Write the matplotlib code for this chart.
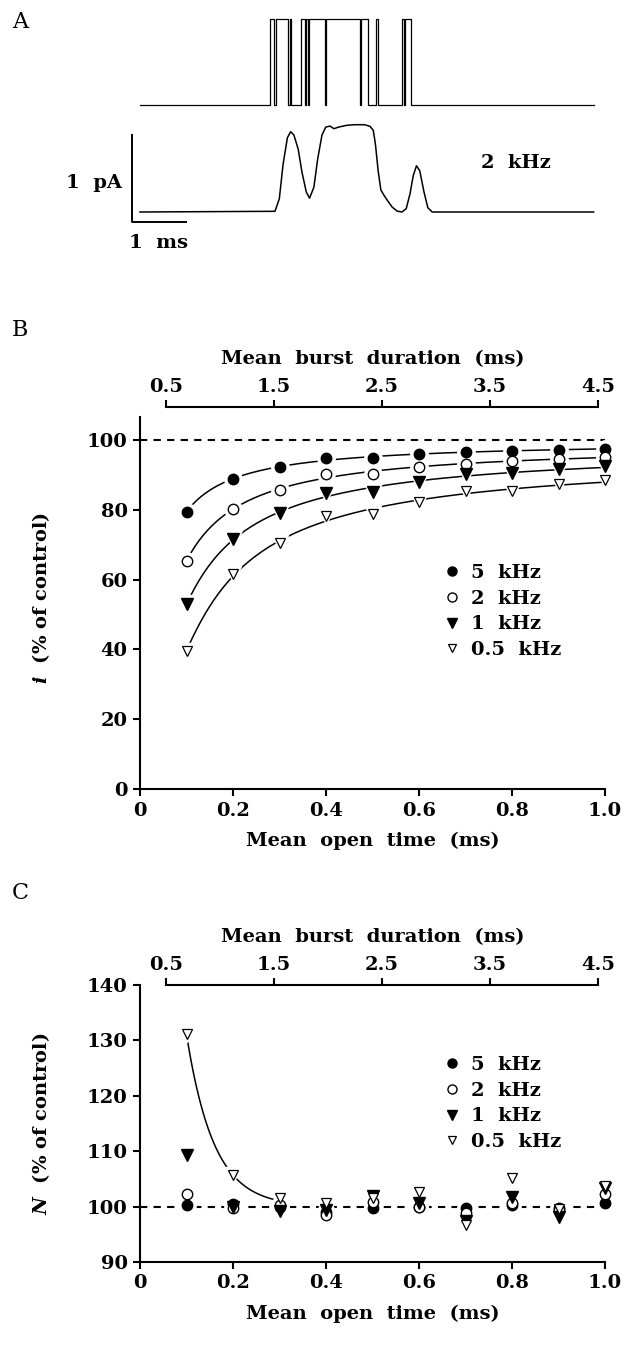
import numpy as np
import matplotlib
matplotlib.use('Agg')
import matplotlib.pyplot as plt
from matplotlib.lines import Line2D

plt.rcParams['font.family'] = ['DejaVu Serif']
plt.rcParams['font.weight'] = 'bold'
plt.rcParams['axes.labelweight'] = 'bold'
plt.rcParams['mathtext.fontset'] = 'dejavuserif'

# ---------------- data ----------------
# Panel A: idealised single-channel record (open intervals, ms)
open_start = [2.41, 2.51, 2.77, 2.99, 3.08, 3.13, 3.44, 4.09, 4.37, 4.85, 4.90]
open_end = [2.49, 2.74, 2.80, 3.05, 3.11, 3.43, 4.08, 4.22, 4.41, 4.88, 5.01]
trace_end = 8.40
# Panel A: filtered (2 kHz) current trace (ms, pA)
filt_t = [0.0, 2.50, 2.58, 2.65, 2.73, 2.79, 2.85, 2.93, 3.00, 3.08, 3.14, 3.22,
          3.29, 3.37, 3.44, 3.52, 3.59, 3.68, 3.82, 3.97, 4.16, 4.26, 4.32, 4.36,
          4.41, 4.46, 4.52, 4.59, 4.67, 4.76, 4.85, 4.93, 5.00, 5.06, 5.12, 5.18,
          5.26, 5.33, 5.41, 8.40]
filt_i = [0.0, 0.008, 0.153, 0.553, 0.859, 0.927, 0.889, 0.725, 0.458, 0.229,
          0.160, 0.286, 0.611, 0.889, 0.981, 0.992, 0.962, 0.981, 1.0, 1.008,
          1.008, 0.989, 0.943, 0.782, 0.477, 0.256, 0.191, 0.126, 0.057, 0.011,
          0.0, 0.038, 0.210, 0.420, 0.534, 0.477, 0.229, 0.050, 0.0, 0.0]

# Panels B and C
open_time = [0.1, 0.2, 0.3, 0.4, 0.5, 0.6, 0.7, 0.8, 0.9, 1.0]
freq_labels = ['5  kHz', '2  kHz', '1  kHz', '0.5  kHz']
i_5k = [79.5, 88.9, 92.2, 94.8, 94.9, 96.0, 96.7, 96.9, 97.2, 97.5]
i_2k = [65.4, 80.3, 85.7, 90.2, 90.2, 92.3, 93.3, 93.9, 94.6, 95.3]
i_1k = [52.9, 71.7, 79.0, 84.9, 85.0, 88.0, 90.2, 90.6, 91.7, 92.5]
i_05k = [39.7, 61.5, 70.4, 78.2, 78.8, 82.3, 85.5, 85.4, 87.3, 88.6]

N_5k = [100.3, 100.5, 100.0, 99.1, 99.8, 100.0, 99.7, 100.3, 99.8, 100.6]
N_2k = [102.3, 99.7, 100.3, 98.5, 100.9, 100.0, 98.9, 100.6, 99.4, 102.3]
N_1k = [109.4, 100.0, 99.2, 99.4, 101.9, 100.7, 97.4, 101.7, 98.1, 103.4]
N_05k = [131.1, 105.7, 101.5, 100.6, 101.5, 102.6, 96.6, 105.1, 99.5, 103.7]

burst_ticks = [0.5, 1.5, 2.5, 3.5, 4.5]
B_yticks = [0, 20, 40, 60, 80, 100]
C_yticks = [90, 100, 110, 120, 130, 140]
x_ticks = [0, 0.2, 0.4, 0.6, 0.8, 1.0]
x_ticklabels = ['0', '0.2', '0.4', '0.6', '0.8', '1.0']

# ---------------- layout helpers ----------------
W, H = 627, 1346
fig = plt.figure(figsize=(W / 100, H / 100), dpi=100)


def ax_px(l, t, r, b):
    return fig.add_axes([l / W, 1 - b / H, (r - l) / W, (b - t) / H])


FS = 14
LW = 1.5

# ---------------- Panel A ----------------
axA = ax_px(100, 5, 620, 255)
axA.set_xlim(-40 / 54, 480 / 54)
axA.set_ylim(-(255 - 212) / 86.6, (212 - 5) / 86.6)
axA.axis('off')

xs = [0.0]
ys = [0.0]
for s, e in zip(open_start, open_end):
    xs += [s, s, e, e]
    ys += [0, 1, 1, 0]
xs.append(trace_end)
ys.append(0)
top_off = 1.23
axA.plot(xs, np.array(ys) * 0.993 + top_off, color='black', lw=0.9)
axA.plot(filt_t, filt_i, color='black', lw=1.1)
# scale bar 1 pA, 1 ms
axA.plot([-0.155, -0.155, 0.845], [0.885, -0.12, -0.12], color='black', lw=1.4)
axA.text(-0.33, 0.34, '1  pA', ha='right', va='center', fontsize=FS)
axA.text(0.35, -0.36, '1  ms', ha='center', va='center', fontsize=FS)
axA.text(6.96, 0.57, '2  kHz', ha='center', va='center', fontsize=FS)
fig.text(20 / W, 1 - 22 / H, 'A', fontsize=16, va='center', ha='center',
         fontweight='normal')

# marker styles
styles = [
    dict(marker='o', ms=7.5, mfc='black', mec='black', mew=1.0),
    dict(marker='o', ms=7.5, mfc='white', mec='black', mew=1.0),
    dict(marker='v', ms=8, mfc='black', mec='black', mew=1.0),
    dict(marker='v', ms=7, mfc='white', mec='black', mew=0.9),
]


def style_axes(ax, twin, ylim, yticks, spine_top_val):
    ax.set_xlim(0, 1.0)
    ax.set_ylim(*ylim)
    ax.set_xticks(x_ticks)
    ax.set_xticklabels(x_ticklabels)
    ax.set_yticks(yticks)
    for sp in ['top', 'right']:
        ax.spines[sp].set_visible(False)
    ax.spines['left'].set_bounds(ylim[0], spine_top_val)
    for sp in ['left', 'bottom']:
        ax.spines[sp].set_linewidth(LW)
    ax.tick_params(direction='out', length=5, width=LW, labelsize=FS, pad=4)
    ax.set_xlabel('Mean  open  time  (ms)', fontsize=FS, labelpad=9)
    # top (burst duration) axis
    twin.set_xlim(0.5 - 26 / 108, 4.5 + 7 / 108)
    twin.set_xticks(burst_ticks)
    twin.set_xticklabels([str(v) for v in burst_ticks])
    for sp in ['left', 'right', 'bottom']:
        twin.spines[sp].set_visible(False)
    twin.spines['top'].set_bounds(0.5, 4.5)
    twin.spines['top'].set_linewidth(LW)
    twin.tick_params(direction='out', length=5, width=LW, labelsize=FS, pad=3)
    twin.set_xlabel('Mean  burst  duration  (ms)', fontsize=FS, labelpad=10)


def draw_points(ax, series):
    for vals, st in zip(series, styles):
        ax.plot(open_time, vals, linestyle='none', marker=st['marker'],
                ms=st['ms'] + 5, mfc='white', mec='white', zorder=3, clip_on=False)
    for vals, st in zip(series, styles):
        ax.plot(open_time, vals, linestyle='none', zorder=4, clip_on=False, **st)


def add_legend(ax, anchor):
    handles = [Line2D([], [], linestyle='none', marker=st['marker'], ms=st['ms'] - 1,
                      mfc=st['mfc'], mec=st['mec'], mew=st['mew']) for st in styles]
    ax.legend(handles, freq_labels, loc='upper left', bbox_to_anchor=anchor,
              frameon=False, fontsize=FS, handlelength=0.8, handletextpad=0.6,
              labelspacing=0.4, borderaxespad=0)


# ---------------- Panel B ----------------
axB = ax_px(140, 407, 605, 789)
twB = axB.twiny()
style_axes(axB, twB, (0, 109.5), B_yticks, 106.6)
axB.set_ylabel(r'$\mathbfit{i}$  (% of control)', fontsize=FS)
axB.yaxis.set_label_coords(-88 / 465, 0.5)
axB.plot([0, 1.0], [100, 100], color='black', lw=1.5, linestyle=(0, (3.5, 3)), zorder=2)

xf = np.linspace(0.1, 1.0, 200)
for vals in [i_5k, i_2k, i_1k, i_05k]:
    inv = 1.0 / np.array(open_time)
    coef = np.polyfit(inv, vals, 2)
    axB.plot(xf, np.polyval(coef, 1.0 / xf), color='black', lw=1.1, zorder=2)
draw_points(axB, [i_5k, i_2k, i_1k, i_05k])
add_legend(axB, ((436 - 140) / 465, (789 - 556) / 382))
fig.text(20 / W, 1 - 330 / H, 'B', fontsize=16, va='center', ha='center',
         fontweight='normal')

# ---------------- Panel C ----------------
axC = ax_px(140, 985, 605, 1262)
twC = axC.twiny()
style_axes(axC, twC, (90, 140), C_yticks, 140)
axC.set_ylabel(r'$\mathbfit{N}$  (% of control)', fontsize=FS)
axC.yaxis.set_label_coords(-88 / 465, 0.5)
axC.plot([0, 1.0], [100, 100], color='black', lw=1.5, linestyle=(0, (3.5, 3)), zorder=2)

# exponential decay through the first two 0.5 kHz points
a0 = N_05k[0] - 100
tau = 0.1 / np.log(a0 / (N_05k[1] - 100))
xc = np.linspace(0.1, 0.29, 100)
axC.plot(xc, 100 + a0 * np.exp(-(xc - 0.1) / tau), color='black', lw=1.1, zorder=2)
draw_points(axC, [N_5k, N_2k, N_1k, N_05k])
add_legend(axC, ((436 - 140) / 465, (1262 - 1048) / 277))
fig.text(20 / W, 1 - 893 / H, 'C', fontsize=16, va='center', ha='center',
         fontweight='normal')

fig.savefig('out.png', dpi=100)
